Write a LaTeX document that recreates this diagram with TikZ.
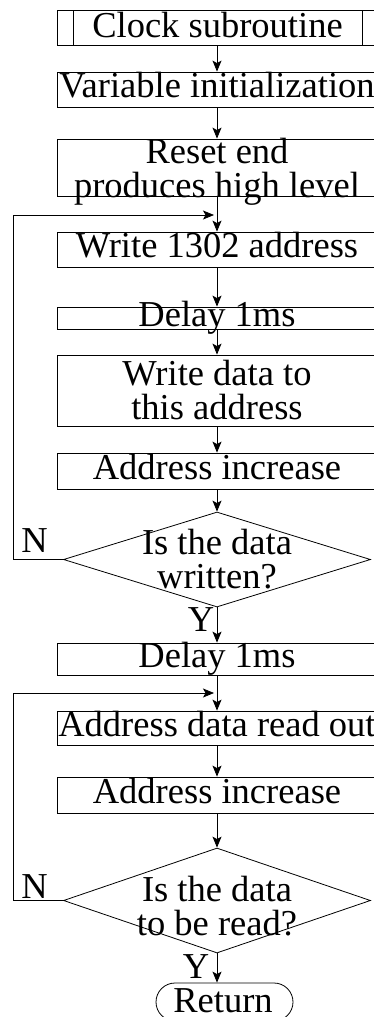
\documentclass[tikz,border=0pt]{standalone}
\usepackage{fontspec}
\setmainfont{Liberation Serif}
\usetikzlibrary{arrows.meta,shapes.geometric,shapes.misc}

\begin{document}
\begin{tikzpicture}[x=1pt,y=-1pt,
  every node/.style={font=\fontsize{36.5}{34}\selectfont},
  box/.style={draw, rectangle, minimum width=320pt, inner sep=0pt},
  decision/.style={draw, diamond, minimum width=307pt, minimum height=95pt, inner sep=0pt},
  label1/.style={inner sep=0pt, text height=24.5pt, text depth=8pt},
  label2/.style={inner sep=0pt, align=center},
  flag/.style={inner sep=0pt},
  terminal/.style={draw, rounded rectangle, minimum width=137pt, minimum height=38pt, inner sep=0pt},
  arr/.style={-{Stealth[length=11pt,width=9pt,inset=2.5pt]}},
  line width=0.8pt]

\useasboundingbox (0,0) rectangle (374,1017);

% subroutine entry (predefined process)
\node[box, minimum width=321pt, minimum height=35pt] (clk) at (217.5,27.5) {};
\draw (73,10) -- (73,45) (362,10) -- (362,45);
\node[label1] (clkT) at (217.5,29) {Clock subroutine};

\node[box, minimum height=35pt] (init) at (217,89.5) {};
\node[label1] (initT) at (init) {Variable initialization};

\node[box, minimum height=57pt] (rst) at (217,167.5) {};
\node[label2] (rstT) at (217,172) {Reset end\\produces high level};

% write loop
\node[box, minimum height=35pt] (wr) at (217,249.5) {};
\node[label1] (wrT) at (wr) {Write 1302 address};

\node[box, minimum height=22pt] (dl1) at (217,318) {};
\node[label1] (dl1T) at (dl1) {Delay 1ms};

\node[box, minimum height=71pt] (wd) at (217,390.5) {};
\node[label2] (wdT) at (wd) {Write data to\\this address};

\node[box, minimum height=36pt] (inc1) at (217,471) {};
\node[label1] (inc1T) at (inc1) {Address increase};

\node[decision] (d1) at (217,559.5) {};
\node[label2] (d1T) at (217,559) {Is the data\\written?};

% read loop
\node[box, minimum height=32pt] (dl2) at (217,659) {};
\node[label1] (dl2T) at (dl2) {Delay 1ms};

\node[box, minimum height=34pt] (rd) at (217,728) {};
\node[label1] (rdT) at (rd) {Address data read out};

\node[box, minimum height=36pt] (inc2) at (217,795) {};
\node[label1] (inc2T) at (inc2) {Address increase};

\node[decision, minimum height=105pt] (d2) at (217,900.5) {};
\node[label2] (d2T) at (217,906) {Is the data\\to be read?};

% end terminal, running off the lower edge
\node[terminal] (ret) at (224.5,1002) {};
\node[flag] (retT) at (223,1001) {Return};

% branch labels
\node[flag] (n1) at (34.5,541) {N};
\node[flag] (y1) at (201,620) {Y};
\node[flag] (n2) at (34.5,887) {N};
\node[flag] (y2) at (196,967) {Y};

% junctions where the loops re-enter the main line
\coordinate (j1) at (217,215);
\coordinate (j2) at (217,693);
\coordinate (rail) at (13,0);

% main flow
\draw[arr] (clk.south -| init.north) -- (init.north);
\draw[arr] (init) -- (rst);
\draw[arr] (rst) -- (wr);
\draw[arr] (wr) -- (dl1);
\draw[arr] (dl1) -- (wd);
\draw[arr] (wd) -- (inc1);
\draw[arr] (inc1) -- (d1);
\draw[arr] (d1.south) -- (dl2.north);
\draw[arr] (dl2) -- (rd);
\draw[arr] (rd) -- (inc2);
\draw[arr] (inc2) -- (d2);
\draw[arr] (d2.south) -- (d2.south |- ret.north);

% loop-backs on the N branches
\draw[arr, shorten >=3pt] (d1.west) -- (d1.west -| rail) -- (rail |- j1) -- (j1);
\draw[arr, shorten >=3pt] (d2.west) -- (d2.west -| rail) -- (rail |- j2) -- (j2);
\end{tikzpicture}
\end{document}
